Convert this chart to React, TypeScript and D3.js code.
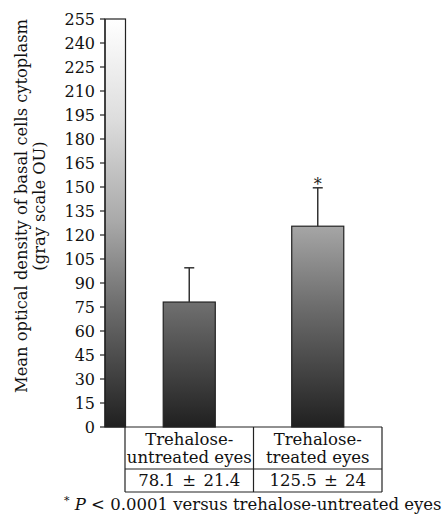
import React from "react";
import * as d3 from "d3";

const categories = ["Trehalose-untreated eyes", "Trehalose-treated eyes"];
const labelLines = [["Trehalose-", "untreated eyes"], ["Trehalose-", "treated eyes"]];
const means = [78.1, 125.5];
const sds = [21.4, 24];
const valueLabels = ["78.1 \u00b1 21.4", "125.5 \u00b1 24"];
const significant = [false, true];
const yTicks = d3.range(0, 256, 15);
const scaleMax = 255;

const W = 442;
const H = 519;
const FONT = "'DejaVu Serif', serif";

export default function App() {
  const y = d3.scaleLinear().domain([0, scaleMax]).range([427, 19]);
  const axisX = 105;
  const scaleRight = 125.5;
  const x = d3
    .scaleBand<string>()
    .domain(categories)
    .range([125, 382])
    .paddingInner(0.595)
    .paddingOuter(0.2975);
  const step = x.step();
  const tableLeft = 125;
  const row1Bottom = 469;
  const row2Bottom = 492;

  return (
    <svg
      width={W}
      height={H}
      style={{ position: "absolute", left: 0, top: 0, background: "#fff" }}
      fontFamily={FONT}
    >
      <defs>
        <linearGradient
          id="gray"
          gradientUnits="userSpaceOnUse"
          x1={0}
          x2={0}
          y1={y(0)}
          y2={y(scaleMax)}
        >
          <stop offset="0" stopColor="#202020" />
          <stop offset="0.3" stopColor="#6e6e6e" />
          <stop offset="0.5" stopColor="#a8a8a8" />
          <stop offset="0.76" stopColor="#dedede" />
          <stop offset="1" stopColor="#ffffff" />
        </linearGradient>
      </defs>

      {/* y axis label */}
      <g transform={`translate(27, 206) rotate(-90)`}>
        <text textAnchor="middle" fontSize={16.3} fill="#111">
          Mean optical density of basal cells cytoplasm
        </text>
        <text y={18} textAnchor="middle" fontSize={16.3} fill="#111">
          (gray scale OU)
        </text>
      </g>

      {/* scale bar */}
      <rect
        x={axisX}
        y={y(scaleMax)}
        width={scaleRight - axisX}
        height={y(0) - y(scaleMax)}
        fill="url(#gray)"
        stroke="#222"
        strokeWidth={1.2}
      />

      {/* ticks */}
      {yTicks.map((t) => (
        <g key={t}>
          <line x1={axisX - 5} x2={axisX} y1={y(t)} y2={y(t)} stroke="#222" strokeWidth={1.2} />
          <text
            x={axisX - 10}
            y={y(t)}
            dy="0.36em"
            textAnchor="end"
            fontSize={16}
            fill="#111"
          >
            {t}
          </text>
        </g>
      ))}

      {/* bars */}
      {categories.map((c, i) => {
        const bx = x(c)!;
        const bw = x.bandwidth();
        const cx = bx + bw / 2;
        const top = y(means[i]);
        const errTop = y(means[i] + sds[i]);
        return (
          <g key={c}>
            <rect
              x={bx}
              y={top}
              width={bw}
              height={y(0) - top}
              fill="url(#gray)"
              stroke="#222"
              strokeWidth={1.2}
            />
            <line x1={cx} x2={cx} y1={top} y2={errTop} stroke="#333" strokeWidth={1.5} />
            <line x1={cx - 5} x2={cx + 5} y1={errTop} y2={errTop} stroke="#333" strokeWidth={1.5} />
            {significant[i] && (
              <text x={cx} y={errTop + 2} textAnchor="middle" fontSize={16} fill="#222">
                *
              </text>
            )}
          </g>
        );
      })}

      {/* axes lines */}
      <line x1={axisX} x2={axisX} y1={y(scaleMax)} y2={y(0)} stroke="#222" strokeWidth={1.2} />
      <line x1={axisX} x2={382} y1={y(0)} y2={y(0)} stroke="#222" strokeWidth={1.2} />

      {/* table */}
      <g stroke="#222" strokeWidth={1.2}>
        {d3.range(categories.length + 1).map((k) => (
          <line
            key={k}
            x1={tableLeft + k * step}
            x2={tableLeft + k * step}
            y1={y(0)}
            y2={row2Bottom}
          />
        ))}
        <line x1={tableLeft} x2={tableLeft + step * categories.length} y1={row1Bottom} y2={row1Bottom} />
        <line x1={tableLeft} x2={tableLeft + step * categories.length} y1={row2Bottom} y2={row2Bottom} />
      </g>
      {categories.map((c, i) => {
        const cx = tableLeft + (i + 0.5) * step;
        return (
          <g key={c} fontSize={16.5} fill="#111" textAnchor="middle">
            <text x={cx} y={445}>{labelLines[i][0]}</text>
            <text x={cx} y={463}>{labelLines[i][1]}</text>
            <text x={cx} y={486} wordSpacing={2}>{valueLabels[i]}</text>
          </g>
        );
      })}

      {/* footnote */}
      <text x={64} y={510} fontSize={16.5} fill="#111">
        <tspan fontSize={11} dy={-6}>*</tspan>
        <tspan dy={6} fontStyle="italic"> P</tspan>
        <tspan> &lt; 0.0001 versus trehalose-untreated eyes</tspan>
      </text>
    </svg>
  );
}
